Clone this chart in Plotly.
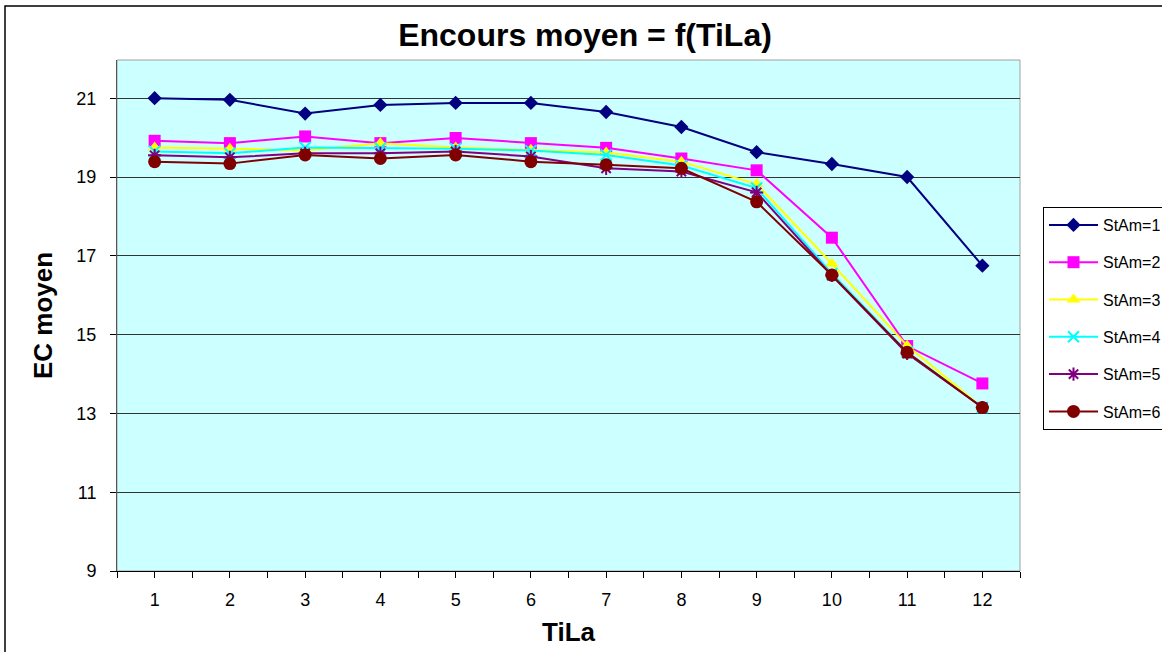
import plotly.graph_objects as go

# TiLa categories
tila = [1, 2, 3, 4, 5, 6, 7, 8, 9, 10, 11, 12]

# Mean EC per StAm level
stam_1 = [21.00, 20.96, 20.61, 20.83, 20.88, 20.88, 20.65, 20.27, 19.63, 19.33, 19.00, 16.75]
stam_2 = [19.92, 19.86, 20.03, 19.86, 19.99, 19.86, 19.74, 19.47, 19.17, 17.46, 14.71, 13.76]
stam_3 = [19.75, 19.72, 19.67, 19.86, 19.75, 19.69, 19.62, 19.39, 18.82, 16.80, 14.72, 13.15]
stam_4 = [19.65, 19.60, 19.75, 19.73, 19.72, 19.67, 19.56, 19.29, 18.72, 16.55, 14.56, 13.15]
stam_5 = [19.55, 19.50, 19.60, 19.60, 19.65, 19.52, 19.22, 19.14, 18.61, 16.50, 14.52, 13.15]
stam_6 = [19.39, 19.34, 19.56, 19.47, 19.56, 19.39, 19.31, 19.22, 18.37, 16.51, 14.55, 13.15]

series_names = ["StAm=1", "StAm=2", "StAm=3", "StAm=4", "StAm=5", "StAm=6"]
series_values = [stam_1, stam_2, stam_3, stam_4, stam_5, stam_6]
colors = ["#000080", "#FF00FF", "#FFFF00", "#00FFFF", "#800080", "#800000"]
symbols = ["diamond", "square", "triangle-up", "x-thin-open", "asterisk-open", "circle"]
sizes = [11, 12, 12, 11, 11, 13]

y_ticks = [9, 11, 13, 15, 17, 19, 21]

fig = go.Figure()
for name, vals, col, sym, sz in zip(series_names, series_values, colors, symbols, sizes):
    fig.add_trace(go.Scatter(
        x=tila, y=vals, name=name, mode="lines+markers",
        legendgroup=name,
        line=dict(color=col, width=2),
        marker=dict(symbol=sym, size=sz, color=col,
                    line=dict(color=col, width=2 if "open" in sym else 0)),
    ))

# x ticks every half category, labels only on the categories
x_tickvals = [0.5 + 0.5 * k for k in range(25)]
x_ticktext = [str(int(v)) if float(v).is_integer() else "" for v in x_tickvals]

font_family = "Liberation Sans, Arial, sans-serif"

fig.update_layout(
    width=1162, height=652,
    paper_bgcolor="white",
    plot_bgcolor="#CCFFFF",
    margin=dict(l=117, r=142, t=60, b=81, autoexpand=False),
    font=dict(family=font_family, color="black", size=18),
    title=dict(text="<b>Encours moyen = f(TiLa)</b>", x=585 / 1162, xanchor="center",
               y=1 - 35 / 652, yanchor="middle",
               font=dict(size=32, family=font_family, color="black")),
    legend=dict(
        x=(1043 - 117) / 903, xanchor="left",
        y=(571 - 207) / 511, yanchor="top",
        bordercolor="black", borderwidth=1, bgcolor="white",
        font=dict(size=16, family=font_family, color="black"),
        tracegroupgap=13.5, itemwidth=49,
    ),
    showlegend=True,
)

fig.update_xaxes(
    range=[0.5, 12.5], tickmode="array", tickvals=x_tickvals, ticktext=x_ticktext,
    ticks="outside", ticklen=6, tickcolor="black", tickwidth=1,
    showline=True, linecolor="black", linewidth=1,
    showgrid=False, zeroline=False,
    tickfont=dict(size=18), ticklabelstandoff=6,
    title=dict(text="<b>TiLa</b>", font=dict(size=26), standoff=14),
)
fig.update_yaxes(
    range=[9, 21.97], tickmode="array", tickvals=y_ticks,
    ticks="outside", ticklen=6, tickcolor="black", tickwidth=1,
    showline=True, linecolor="#555555", linewidth=1,
    showgrid=True, gridcolor="#333333", gridwidth=1,
    zeroline=False,
    tickfont=dict(size=18), ticklabelstandoff=10,
    title=dict(text="<b>EC moyen</b>", font=dict(size=26), standoff=16),
)

# plot area frame and outer chart frame
fig.add_shape(type="rect", xref="paper", yref="paper", x0=0, y0=0, x1=1, y1=1,
              line=dict(color="#A0A0A0", width=1), layer="below")
fig.add_shape(type="rect", xref="paper", yref="paper",
              x0=(5 - 117) / 903, y0=(571 - 660) / 511, x1=1.3, y1=(571 - 6) / 511,
              line=dict(color="black", width=1.5), layer="above")

fig.write_html("out.html")
